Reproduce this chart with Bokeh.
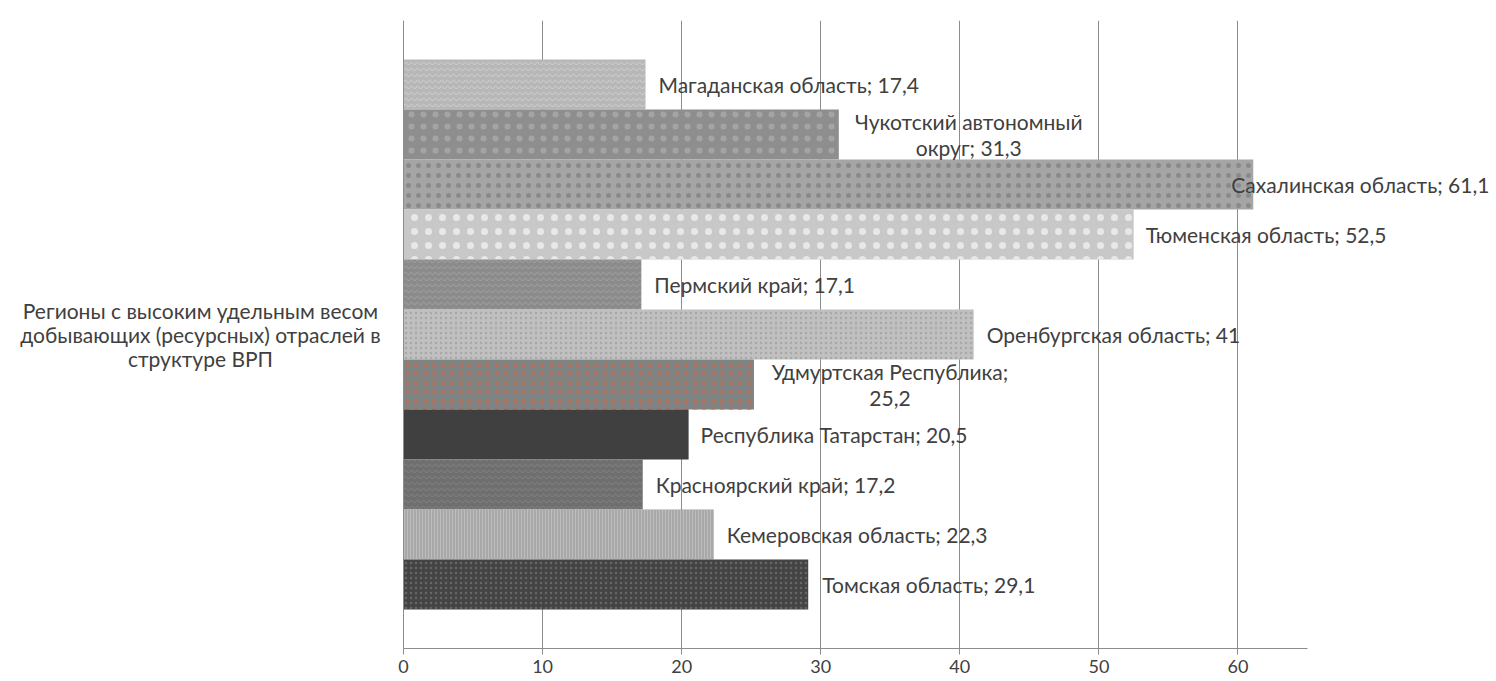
from bokeh.plotting import figure
from bokeh.layouts import row
from bokeh.models import ColumnDataSource, Range1d, FixedTicker
from bokeh.core.properties import value
from bokeh.embed import file_html
from bokeh.resources import INLINE

# ---------------- data ----------------
CATEGORY = "Регионы с высоким удельным весом\nдобывающих (ресурсных) отраслей в\nструктуре ВРП"
REGIONS = ["Магаданская область", "Чукотский автономный округ", "Сахалинская область",
           "Тюменская область", "Пермский край", "Оренбургская область",
           "Удмуртская Республика", "Республика Татарстан", "Красноярский край",
           "Кемеровская область", "Томская область"]
VALUES = [17.4, 31.3, 61.1, 52.5, 17.1, 41, 25.2, 20.5, 17.2, 22.3, 29.1]
X_TICKS = [0, 10, 20, 30, 40, 50, 60]

# ---------------- styles ----------------
FONT = "Lato"
TXT = "#404040"
GRID = "#8c8c8c"
FILLS = ["#b7b7b7", "#8e8e8e", "#a5a5a5", "#c8c8c8", "#8b8b8b", "#c0c0c0",
         "#7f8381", "#404040", "#6f6f6f", "#a8a8a8", "#444444"]
HATCH = ["horizontal_wave", "dot", "dot", "dot", "horizontal_wave", "dot",
         "dot", " ", "horizontal_wave", "vertical_line", "dot"]
HATCH_COL = ["#d2d2d2", "#a4a4a4", "#8a8a8a", "#e8e8e8", "#a4a4a4", "#a8a8a8",
             "#b0705f", "#404040", "#848484", "#bdbdbd", "#666666"]
HATCH_SCALE = [6, 12, 10, 14, 6, 5, 9, 12, 6, 3, 5]
HATCH_W = [1.0, 0.6, 0.6, 0.6, 1.0, 0.6, 0.6, 1.0, 1.0, 1.0, 0.6]
WRAP = {"Чукотский автономный округ": "Чукотский автономный\nокруг",
        "Удмуртская Республика": "Удмуртская Республика;\n"}
X_OFF = [13, 130, -22, 12, 13, 13, 136, 12, 13, 13, 14]
ALIGN = ["left", "center", "left", "left", "left", "left", "center", "left", "left", "left", "left"]


def fmt(v):
    return ("%g" % v).replace(".", ",")


labels = []
for r, v in zip(REGIONS, VALUES):
    if r == "Удмуртская Республика":
        labels.append(WRAP[r] + fmt(v))
    elif r in WRAP:
        labels.append(WRAP[r] + "; " + fmt(v))
    else:
        labels.append(r + "; " + fmt(v))

n = len(REGIONS)
pos = [n - 1 - i for i in range(n)]

src = ColumnDataSource(dict(region=REGIONS, value=VALUES, pos=pos, label=labels,
                            fill=FILLS, hatch=HATCH, hcol=HATCH_COL, hscale=HATCH_SCALE,
                            hw=HATCH_W, xoff=X_OFF, align=ALIGN))

BAR_PX = 50
FRAME_H = 628
FRAME_W = 1090
LEFT_W = 393
PX_PER_UNIT = 904 / 65.0
span = FRAME_H / BAR_PX
pad = (span - n) / 2
yr = Range1d(-0.5 - pad, n - 0.5 + pad)

# main chart
p = figure(x_range=Range1d(0, FRAME_W / PX_PER_UNIT), y_range=yr,
           frame_width=FRAME_W, frame_height=FRAME_H,
           min_border_left=10, min_border_top=20, min_border_right=0, min_border_bottom=0,
           output_backend="svg", toolbar_location=None)
p.outline_line_color = None
p.background_fill_color = "white"

p.hbar(y="pos", left=0, right="value", height=1.0, source=src,
       fill_color="fill", line_color=None,
       hatch_pattern="hatch", hatch_color="hcol", hatch_scale="hscale", hatch_weight="hw")

p.text(x="value", y="pos", text="label", source=src, x_offset="xoff",
       text_align="align", text_baseline="middle",
       text_font=value(FONT), text_font_size="21px", text_color=TXT,
       text_line_height=1.07)

xa = p.xaxis[0]
xa.ticker = FixedTicker(ticks=X_TICKS)
xa.bounds = (0, 65)
xa.axis_line_color = GRID
xa.major_tick_line_color = GRID
xa.major_tick_out = 6
xa.major_tick_in = 0
xa.minor_tick_line_color = None
xa.major_label_text_font = FONT
xa.major_label_text_font_size = "18px"
xa.major_label_text_color = TXT
xa.major_label_standoff = 5

ya = p.yaxis[0]
ya.ticker = FixedTicker(ticks=[])
ya.axis_line_color = GRID
ya.major_tick_line_color = None
ya.minor_tick_line_color = None
ya.major_tick_out = 0
ya.major_tick_in = 0

p.xgrid.ticker = FixedTicker(ticks=X_TICKS[1:])
p.xgrid.grid_line_color = GRID
p.ygrid.visible = False

# category name, centred to the left of the value axis
cat = figure(x_range=Range1d(0, LEFT_W), y_range=yr,
             frame_width=LEFT_W, frame_height=FRAME_H,
             min_border_left=0, min_border_top=20, min_border_right=0, min_border_bottom=0,
             output_backend="svg", toolbar_location=None)
cat.axis.visible = False
cat.grid.visible = False
cat.outline_line_color = None
src_cat = ColumnDataSource(dict(name=[CATEGORY], y=[(n - 1) / 2]))
cat.text(x=200, y="y", text="name", source=src_cat,
         text_align="center", text_baseline="middle",
         text_font=value(FONT), text_font_size="21px", text_color=TXT,
         text_line_height=0.95)

layout = row(cat, p, spacing=0)
open("out.html", "w").write(file_html(layout, INLINE))
